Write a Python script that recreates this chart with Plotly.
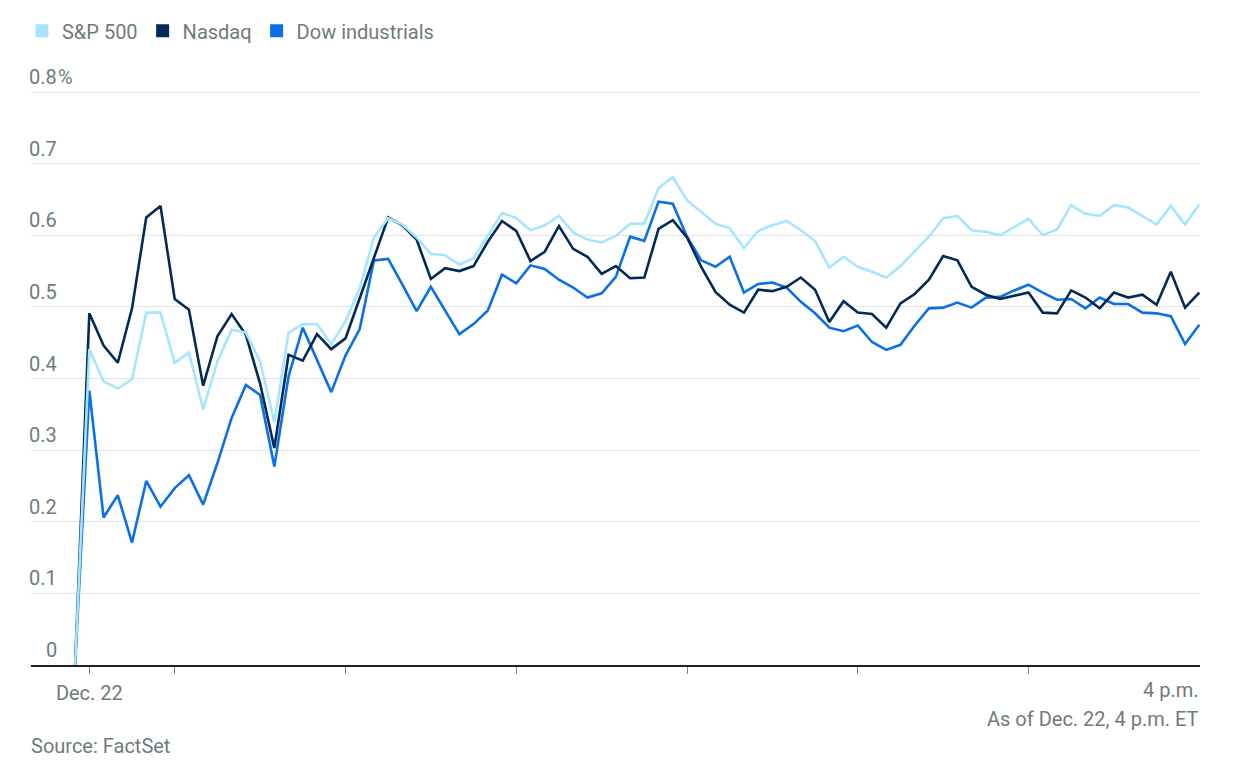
import pandas as pd
import plotly.graph_objects as go

times = pd.date_range("2022-12-22 09:25", periods=80, freq="5min")

sp500 = [0, .441, .396, .386, .399, .492, .492, .422, .436, .357,
         .424, .468, .464, .424, .339, .464, .476, .476, .448, .480,
         .526, .597, .624, .615, .597, .574, .572, .559, .568, .600,
         .631, .624, .607, .614, .627, .604, .594, .590, .599, .616,
         .616, .666, .681, .649, .633, .616, .610, .582, .606, .614,
         .620, .607, .592, .555, .570, .556, .549, .541, .557, .577,
         .598, .624, .627, .607, .605, .600, .611, .623, .600, .608,
         .642, .630, .627, .642, .639, .627, .615, .641, .615, .643]

nasdaq = [0, .491, .446, .422, .498, .625, .641, .511, .496, .390,
          .459, .490, .461, .393, .303, .433, .425, .462, .441, .456,
          .512, .568, .625, .614, .594, .539, .554, .550, .557, .591,
          .620, .606, .564, .577, .613, .581, .570, .546, .557, .540,
          .541, .609, .621, .597, .556, .521, .503, .492, .524, .522,
          .528, .541, .524, .479, .508, .492, .490, .471, .505, .518,
          .538, .571, .565, .528, .517, .511, .515, .520, .492, .491,
          .523, .513, .498, .520, .513, .517, .503, .549, .499, .520]

dow = [0, .383, .206, .237, .171, .257, .221, .247, .265, .224,
       .282, .345, .391, .377, .277, .403, .471, .426, .381, .432,
       .469, .565, .567, .531, .494, .528, .496, .462, .476, .495,
       .545, .533, .558, .553, .538, .527, .513, .519, .542, .598,
       .592, .647, .644, .598, .565, .556, .570, .520, .532, .534,
       .527, .507, .491, .471, .466, .474, .451, .440, .447, .474,
       .498, .499, .506, .499, .513, .514, .523, .531, .520, .510,
       .511, .498, .513, .504, .504, .492, .491, .487, .448, .475]

series_names = ["S&P 500", "Nasdaq", "Dow industrials"]
series_colors = ["#a6e5ff", "#022a55", "#0a6fe8"]

y_ticks = [0.1, 0.2, 0.3, 0.4, 0.5, 0.6, 0.7, 0.8]
y_labels = ["0.1", "0.2", "0.3", "0.4", "0.5", "0.6", "0.7", "0.8"]
x_tickvals = pd.to_datetime(["2022-12-22 09:30", "2022-12-22 10:00", "2022-12-22 11:00",
                             "2022-12-22 12:00", "2022-12-22 13:00", "2022-12-22 14:00",
                             "2022-12-22 15:00"])
x_ticktext = ["Dec. 22", "", "", "", "", "", ""]

FONT = "Roboto, Arial, sans-serif"
GRAY = "#6e7b7d"
FS = 20

fig = go.Figure()
values = [sp500, nasdaq, dow]
order = [2, 1, 0]
for k in order:
    fig.add_trace(go.Scatter(x=times, y=values[k], mode="lines",
                             line=dict(color=series_colors[k], width=2.6),
                             showlegend=False, hoverinfo="skip"))
for k in range(3):
    fig.add_trace(go.Scatter(x=[None], y=[None], mode="markers", name=series_names[k],
                             marker=dict(symbol="square", size=13, color=series_colors[k])))

# page body has an 8px offset, margins compensate for it
fig.update_layout(
    width=1247, height=774,
    margin=dict(l=23, r=55, t=72, b=117, autoexpand=False),
    paper_bgcolor="white", plot_bgcolor="white",
    font=dict(family=FONT, size=FS, color=GRAY),
    legend=dict(orientation="h", x=-0.0077, xanchor="left", y=1.084, yanchor="middle",
                font=dict(size=FS, color=GRAY), itemclick=False, itemdoubleclick=False,
                tracegroupgap=0, itemwidth=30),
    xaxis=dict(range=[pd.Timestamp("2022-12-22 09:09:30"), pd.Timestamp("2022-12-22 16:00:15")],
               tickvals=x_tickvals, ticktext=x_ticktext, ticks="outside", ticklen=7,
               tickcolor="#888", tickwidth=1, showgrid=False, ticklabelstandoff=2,
               showline=True, linecolor="#222", linewidth=1.5,
               tickfont=dict(size=FS, color=GRAY), zeroline=False),
    yaxis=dict(range=[0, 0.8168], tickvals=y_ticks, showticklabels=False,
               showgrid=True, gridcolor="#e3e3e3", gridwidth=1, zeroline=False),
    showlegend=True,
)

for v, t in zip(y_ticks, y_labels):
    fig.add_annotation(x=0.0240, xref="paper", y=v, yref="y", text=t, showarrow=False,
                       xanchor="right", yanchor="bottom", yshift=1,
                       font=dict(size=FS, color=GRAY))
fig.add_annotation(x=0.0240, xref="paper", y=0.8, yref="y", text="%", showarrow=False,
                   xanchor="left", yanchor="bottom", yshift=1, xshift=-3,
                   font=dict(size=FS, color=GRAY))
fig.add_annotation(x=0.0240, xref="paper", y=0, yref="y", text="0", showarrow=False,
                   xanchor="right", yanchor="bottom", yshift=1,
                   font=dict(size=FS, color=GRAY))

fig.add_annotation(x=1, xref="paper", y=0, yref="paper", text="4 p.m.", showarrow=False,
                   xanchor="right", yanchor="top", yshift=-11, xshift=1,
                   font=dict(size=FS, color=GRAY))
fig.add_annotation(x=1, xref="paper", y=0, yref="paper", text="As of Dec. 22, 4 p.m. ET",
                   showarrow=False, xanchor="right", yanchor="top", yshift=-40, xshift=1,
                   font=dict(size=FS, color=GRAY))
fig.add_annotation(x=0, xref="paper", y=0, yref="paper", text="Source: FactSet",
                   showarrow=False, xanchor="left", yanchor="top", yshift=-67, xshift=-2,
                   font=dict(size=FS, color=GRAY))

fig.write_html("out.html")
